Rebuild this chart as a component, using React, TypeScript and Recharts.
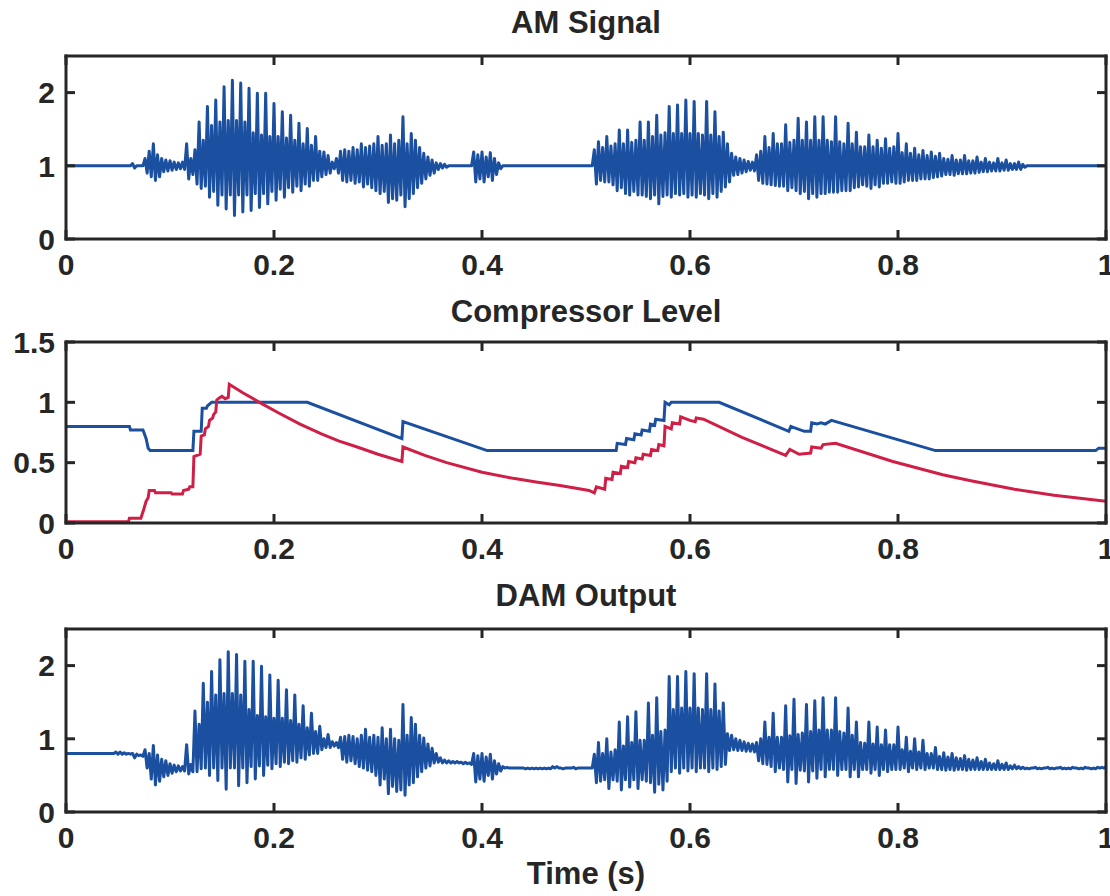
import { LineChart, Line, XAxis, YAxis } from 'recharts'

// sample spacing of the two audio traces (s); each sample holds an upper and a lower swing
const STEP = 0.004

const amHi = [
  1, 1, 1, 1, 1, 1, 1, 1, 1, 1,
  1, 1, 1, 1, 1, 1, 1.03, 1, 1, 1.1,
  1.2, 1.3, 1.15, 1.1, 1.08, 1.07, 1.05, 1.04, 1.05, 1.3,
  1.1, 1.22, 1.6, 1.35, 1.81, 1.55, 1.9, 1.6, 2.08, 1.62,
  2.17, 1.62, 2.13, 1.6, 2.06, 1.45, 1.99, 1.42, 1.99, 1.4,
  1.85, 1.4, 1.74, 1.38, 1.69, 1.35, 1.58, 1.3, 1.51, 1.28,
  1.4, 1.2, 1.19, 1.14, 1.05, 1.1, 1.2, 1.22, 1.2, 1.25,
  1.22, 1.3, 1.25, 1.27, 1.3, 1.4, 1.28, 1.3, 1.42, 1.3,
  1.35, 1.67, 1.3, 1.44, 1.35, 1.25, 1.17, 1.12, 1.08, 1.04,
  1.03, 1.02, 1, 1, 1, 1, 1, 1, 1.19, 1.15,
  1.19, 1.12, 1.18, 1.1, 1.04, 1, 1, 1, 1, 1,
  1, 1, 1, 1, 1, 1, 1, 1, 1, 1,
  1, 1, 1, 1, 1, 1, 1, 1.22, 1.33, 1.25,
  1.4, 1.27, 1.3, 1.49, 1.3, 1.49, 1.32, 1.35, 1.6, 1.35,
  1.6, 1.4, 1.69, 1.42, 1.45, 1.81, 1.44, 1.83, 1.44, 1.9,
  1.44, 1.88, 1.44, 1.42, 1.88, 1.42, 1.74, 1.4, 1.46, 1.3,
  1.17, 1.12, 1.1, 1.08, 1.06, 1.05, 1.15, 1.2, 1.4, 1.25,
  1.44, 1.3, 1.3, 1.56, 1.32, 1.35, 1.65, 1.35, 1.6, 1.35,
  1.67, 1.35, 1.67, 1.35, 1.33, 1.67, 1.33, 1.3, 1.58, 1.3,
  1.46, 1.26, 1.26, 1.42, 1.26, 1.35, 1.24, 1.37, 1.24, 1.26,
  1.44, 1.18, 1.3, 1.17, 1.24, 1.15, 1.21, 1.14, 1.19, 1.13,
  1.17, 1.1, 1.09, 1.14, 1.08, 1.08, 1.14, 1.07, 1.07, 1.12,
  1.05, 1.1, 1.05, 1.04, 1.1, 1.04, 1.08, 1.03, 1.03, 1.05,
  1.02, 1, 1, 1, 1, 1, 1, 1, 1, 1,
  1, 1, 1, 1, 1, 1, 1, 1, 1, 1,
  1,
]

const amLo = [
  1, 1, 1, 1, 1, 1, 1, 1, 1, 1,
  1, 1, 1, 1, 1, 1, 0.97, 1, 1, 0.9,
  0.85, 0.8, 0.85, 0.92, 0.93, 0.94, 0.95, 0.96, 0.95, 0.82,
  0.88, 0.75, 0.69, 0.72, 0.57, 0.65, 0.46, 0.6, 0.41, 0.6,
  0.32, 0.6, 0.37, 0.6, 0.39, 0.62, 0.43, 0.62, 0.48, 0.65,
  0.53, 0.68, 0.57, 0.7, 0.64, 0.72, 0.66, 0.75, 0.72, 0.8,
  0.8, 0.85, 0.88, 0.9, 0.96, 0.9, 0.8, 0.78, 0.8, 0.76,
  0.78, 0.71, 0.75, 0.7, 0.66, 0.62, 0.65, 0.5, 0.55, 0.53,
  0.6, 0.44, 0.55, 0.62, 0.7, 0.76, 0.82, 0.87, 0.9, 0.95,
  0.97, 0.98, 1, 1, 1, 1, 1, 1, 0.78, 0.82,
  0.78, 0.85, 0.8, 0.88, 0.96, 1, 1, 1, 1, 1,
  1, 1, 1, 1, 1, 1, 1, 1, 1, 1,
  1, 1, 1, 1, 1, 1, 1, 0.75, 0.8, 0.78,
  0.78, 0.74, 0.66, 0.7, 0.62, 0.6, 0.65, 0.6, 0.6, 0.58,
  0.55, 0.6, 0.48, 0.58, 0.6, 0.57, 0.62, 0.6, 0.62, 0.57,
  0.6, 0.57, 0.62, 0.6, 0.55, 0.62, 0.57, 0.65, 0.71, 0.78,
  0.87, 0.88, 0.9, 0.92, 0.94, 0.93, 0.8, 0.76, 0.75, 0.74,
  0.73, 0.72, 0.72, 0.66, 0.7, 0.66, 0.62, 0.65, 0.55, 0.62,
  0.57, 0.62, 0.62, 0.64, 0.64, 0.64, 0.66, 0.66, 0.66, 0.7,
  0.71, 0.74, 0.72, 0.69, 0.74, 0.71, 0.76, 0.76, 0.78, 0.76,
  0.76, 0.78, 0.8, 0.8, 0.8, 0.82, 0.82, 0.82, 0.84, 0.85,
  0.86, 0.88, 0.88, 0.87, 0.89, 0.89, 0.89, 0.9, 0.9, 0.91,
  0.92, 0.92, 0.93, 0.93, 0.93, 0.94, 0.94, 0.95, 0.95, 0.95,
  0.98, 1, 1, 1, 1, 1, 1, 1, 1, 1,
  1, 1, 1, 1, 1, 1, 1, 1, 1, 1,
  1,
]

const damHi = [
  0.8, 0.8, 0.8, 0.8, 0.8, 0.8, 0.8, 0.8, 0.8, 0.8,
  0.8, 0.8, 0.82, 0.82, 0.81, 0.8, 0.8, 0.79, 0.78, 0.85,
  0.8, 0.91, 0.78, 0.72, 0.7, 0.66, 0.64, 0.63, 0.62, 0.92,
  0.65, 1.38, 1.2, 1.76, 1.5, 1.92, 1.6, 2.08, 1.62, 2.19,
  1.62, 2.15, 1.6, 2.06, 1.4, 2.06, 1.32, 1.99, 1.3, 1.87,
  1.28, 1.8, 1.28, 1.67, 1.25, 1.6, 1.2, 1.45, 1.15, 1.35,
  1.1, 1.17, 1.0, 1.06, 0.96, 0.95, 1.02, 1.03, 1.05, 1.03,
  1.0, 1.05, 1.13, 1.02, 1.05, 1.02, 1.15, 1.0, 1.13, 1.0,
  0.98, 1.47, 1.05, 1.29, 1.2, 1.05, 1.01, 0.93, 0.87, 0.8,
  0.74, 0.71, 0.7, 0.69, 0.69, 0.68, 0.68, 0.67, 0.8, 0.77,
  0.8, 0.75, 0.79, 0.7, 0.66, 0.62, 0.61, 0.6, 0.6, 0.6,
  0.6, 0.6, 0.6, 0.6, 0.6, 0.6, 0.6, 0.62, 0.62, 0.6,
  0.6, 0.6, 0.61, 0.6, 0.6, 0.6, 0.6, 0.79, 0.95, 0.8,
  1.0, 0.82, 0.85, 1.23, 0.9, 1.3, 0.95, 1.37, 0.98, 0.98,
  1.49, 1.05, 1.56, 1.1, 1.12, 1.85, 1.4, 1.85, 1.42, 1.92,
  1.42, 1.89, 1.42, 1.4, 1.89, 1.4, 1.75, 1.38, 1.49, 1.07,
  1.05, 1.0, 0.98, 0.96, 0.94, 0.93, 0.95, 1.0, 1.23, 1.02,
  1.35, 1.02, 1.02, 1.45, 1.04, 1.54, 1.06, 1.08, 1.47, 1.1,
  1.52, 1.12, 1.56, 1.12, 1.12, 1.56, 1.1, 1.08, 1.42, 1.05,
  1.23, 0.95, 0.94, 1.23, 0.93, 1.16, 0.92, 1.12, 0.92, 0.92,
  1.16, 0.85, 1.02, 0.83, 1.0, 0.82, 0.98, 0.8, 0.8, 0.88,
  0.76, 0.81, 0.75, 0.8, 0.74, 0.73, 0.77, 0.72, 0.71, 0.74,
  0.69, 0.72, 0.67, 0.66, 0.7, 0.65, 0.67, 0.63, 0.64, 0.62,
  0.61, 0.6, 0.6, 0.61, 0.6, 0.6, 0.61, 0.6, 0.6, 0.61,
  0.6, 0.6, 0.61, 0.6, 0.6, 0.61, 0.6, 0.6, 0.61, 0.61,
  0.62,
]

const damLo = [
  0.8, 0.8, 0.8, 0.8, 0.8, 0.8, 0.8, 0.8, 0.8, 0.8,
  0.8, 0.8, 0.79, 0.79, 0.79, 0.79, 0.74, 0.77, 0.76, 0.6,
  0.45, 0.37, 0.42, 0.48, 0.5, 0.53, 0.55, 0.56, 0.56, 0.52,
  0.55, 0.55, 0.59, 0.6, 0.5, 0.6, 0.43, 0.6, 0.31, 0.6,
  0.6, 0.36, 0.6, 0.4, 0.62, 0.45, 0.63, 0.5, 0.64, 0.59,
  0.66, 0.62, 0.68, 0.66, 0.7, 0.68, 0.74, 0.72, 0.78, 0.8,
  0.8, 0.85, 0.88, 0.88, 0.9, 0.88, 0.72, 0.68, 0.7, 0.66,
  0.62, 0.6, 0.57, 0.55, 0.5, 0.37, 0.45, 0.25, 0.35, 0.28,
  0.3, 0.23, 0.37, 0.4, 0.48, 0.55, 0.6, 0.63, 0.67, 0.68,
  0.67, 0.67, 0.67, 0.67, 0.67, 0.66, 0.66, 0.65, 0.41, 0.45,
  0.42, 0.5, 0.45, 0.52, 0.56, 0.6, 0.6, 0.6, 0.6, 0.6,
  0.59, 0.59, 0.59, 0.59, 0.59, 0.59, 0.59, 0.6, 0.6, 0.59,
  0.6, 0.6, 0.59, 0.6, 0.6, 0.6, 0.6, 0.4, 0.42, 0.44,
  0.32, 0.44, 0.42, 0.3, 0.44, 0.34, 0.44, 0.32, 0.44, 0.42,
  0.4, 0.27, 0.38, 0.3, 0.42, 0.55, 0.6, 0.53, 0.6, 0.56,
  0.6, 0.55, 0.6, 0.6, 0.55, 0.6, 0.58, 0.62, 0.65, 0.84,
  0.85, 0.84, 0.84, 0.83, 0.83, 0.82, 0.7, 0.66, 0.65, 0.62,
  0.55, 0.6, 0.58, 0.41, 0.58, 0.39, 0.57, 0.56, 0.41, 0.56,
  0.46, 0.58, 0.48, 0.58, 0.58, 0.5, 0.58, 0.58, 0.48, 0.58,
  0.48, 0.58, 0.58, 0.53, 0.58, 0.5, 0.58, 0.55, 0.58, 0.58,
  0.58, 0.6, 0.55, 0.6, 0.58, 0.6, 0.58, 0.6, 0.6, 0.58,
  0.58, 0.57, 0.58, 0.57, 0.58, 0.58, 0.57, 0.58, 0.58, 0.58,
  0.58, 0.58, 0.58, 0.58, 0.58, 0.58, 0.58, 0.59, 0.59, 0.59,
  0.59, 0.59, 0.6, 0.59, 0.59, 0.6, 0.59, 0.59, 0.6, 0.59,
  0.59, 0.59, 0.6, 0.59, 0.59, 0.6, 0.59, 0.59, 0.6, 0.6,
  0.62,
]

// compressor level, blue trace
const blueT = [
  0, 0.061, 0.062, 0.074, 0.077, 0.079, 0.081,
  0.122, 0.123, 0.13, 0.131, 0.135, 0.136, 0.14,
  0.232, 0.323, 0.324, 0.405,
  0.529, 0.53, 0.538, 0.539, 0.546, 0.547, 0.553, 0.554, 0.561, 0.562, 0.566, 0.567, 0.575, 0.576,
  0.58, 0.582, 0.628,
  0.695, 0.697, 0.7, 0.71, 0.716, 0.717, 0.722, 0.726, 0.73, 0.736,
  0.836, 0.99, 0.993, 1,
]
const blueV = [
  0.8, 0.8, 0.77, 0.77, 0.7, 0.62, 0.6,
  0.6, 0.76, 0.76, 0.95, 0.95, 0.97, 1,
  1, 0.7, 0.84, 0.6,
  0.6, 0.66, 0.65, 0.7, 0.69, 0.74, 0.73, 0.77, 0.76, 0.82, 0.81, 0.86, 0.85, 1,
  0.98, 1, 1,
  0.76, 0.8, 0.79, 0.76, 0.76, 0.83, 0.82, 0.83, 0.82, 0.85,
  0.6, 0.6, 0.62, 0.62,
]

// compressor level, red trace
const redT = [
  0, 0.06, 0.061, 0.072, 0.075, 0.077, 0.079, 0.08, 0.085, 0.086,
  0.101, 0.102, 0.112, 0.113, 0.118, 0.119, 0.122, 0.123, 0.126, 0.129,
  0.13, 0.133, 0.134, 0.137, 0.138, 0.141, 0.142, 0.144, 0.145, 0.148,
  0.15, 0.153, 0.156, 0.157, 0.17, 0.186, 0.205, 0.225, 0.245, 0.262,
  0.28, 0.3, 0.323, 0.324, 0.345, 0.366, 0.4, 0.43, 0.452, 0.475,
  0.503, 0.508, 0.51, 0.518, 0.519, 0.525, 0.526, 0.533, 0.534, 0.54,
  0.541, 0.547, 0.548, 0.554, 0.555, 0.562, 0.563, 0.569, 0.57, 0.575,
  0.576, 0.582, 0.583, 0.59, 0.591, 0.6, 0.605, 0.606, 0.613, 0.65,
  0.692, 0.696, 0.705, 0.716, 0.717, 0.726, 0.728, 0.74, 0.795, 0.843,
  0.87, 0.912, 0.95, 1,
]
const redV = [
  0.01, 0.01, 0.04, 0.04, 0.12, 0.18, 0.21, 0.27, 0.27, 0.25,
  0.25, 0.24, 0.24, 0.27, 0.28, 0.3, 0.3, 0.55, 0.56, 0.57,
  0.72, 0.73, 0.78, 0.8, 0.85, 0.87, 0.9, 0.92, 1.02, 1.04,
  1.05, 1.03, 1.04, 1.15, 1.08, 1, 0.91, 0.82, 0.74, 0.68,
  0.63, 0.57, 0.51, 0.63, 0.56, 0.5, 0.42, 0.37, 0.34, 0.31,
  0.27, 0.25, 0.3, 0.28, 0.37, 0.36, 0.42, 0.41, 0.47, 0.46,
  0.51, 0.5, 0.54, 0.53, 0.57, 0.56, 0.61, 0.6, 0.65, 0.64,
  0.8, 0.78, 0.83, 0.82, 0.88, 0.85, 0.84, 0.87, 0.86, 0.71,
  0.56, 0.61, 0.57, 0.58, 0.63, 0.62, 0.65, 0.66, 0.51, 0.4,
  0.35, 0.28, 0.23, 0.18,
]

const timeTicks = [0, 0.2, 0.4, 0.6, 0.8, 1]
const signalTicks = [0, 1, 2]
const levelTicks = [0, 0.5, 1, 1.5]

const BLUE = '#1b4fa0'
const RED = '#cf1f46'
const INK = '#262626'
const FONT = '"Liberation Sans", Arial, Helvetica, sans-serif'
const TICK_LEN = 9
const X_GAP = 15 // axis to top of time labels
const Y_GAP = 11 // axis to right edge of value labels

function zigzag(hi: number[], lo: number[]) {
  const pts: { t: number; v: number }[] = []
  hi.forEach((h, i) => {
    pts.push({ t: i * STEP, v: h })
    pts.push({ t: i * STEP + STEP / 2, v: lo[i] })
  })
  return pts
}

function pairs(ts: number[], vs: number[]) {
  return ts.map((t, i) => ({ t, v: vs[i] }))
}

const amData = zigzag(amHi, amLo)
const damData = zigzag(damHi, damLo)
const blueData = pairs(blueT, blueV)
const redData = pairs(redT, redV)

const fmtTime = (v: number) => (v === 0 || v === 1 ? String(v) : v.toFixed(1))
const fmtLevel = (v: number) => (Number.isInteger(v) ? String(v) : v.toFixed(1))

const labelProps = { fill: INK, fontSize: 30, fontWeight: 700, fontFamily: FONT }

// tick renderers: inward mark + label, matlab style
function BottomTick(p: any) {
  return (
    <g>
      <line x1={p.x} x2={p.x} y1={p.y - X_GAP} y2={p.y - X_GAP - TICK_LEN} stroke={INK} strokeWidth={3} />
      <text x={p.x} y={p.y} dy="0.71em" textAnchor="middle" {...labelProps}>
        {fmtTime(p.payload.value)}
      </text>
    </g>
  )
}

function LeftTick(p: any) {
  return (
    <g>
      <line x1={p.x + Y_GAP} x2={p.x + Y_GAP + TICK_LEN} y1={p.y} y2={p.y} stroke={INK} strokeWidth={3} />
      <text x={p.x} y={p.y} dy="0.36em" textAnchor="end" {...labelProps}>
        {fmtLevel(p.payload.value)}
      </text>
    </g>
  )
}

function TopTick(p: any) {
  return <line x1={p.x} x2={p.x} y1={p.y} y2={p.y + TICK_LEN} stroke={INK} strokeWidth={3} />
}

function RightTick(p: any) {
  return <line x1={p.x} x2={p.x - TICK_LEN} y1={p.y} y2={p.y} stroke={INK} strokeWidth={3} />
}

// box with inward ticks on all four sides, labels on bottom and left only.
// top/right axes get 1px of size: recharts skips drawing an axis of zero size
function frame(yMax: number, yTicks: number[]) {
  const edge = { stroke: INK, strokeWidth: 3, strokeLinecap: 'square' as const }
  const xCommon = {
    type: 'number' as const,
    dataKey: 't',
    domain: [0, 1],
    ticks: timeTicks,
    interval: 0,
    allowDataOverflow: true,
    tickLine: false,
    tickSize: 0,
    axisLine: edge,
  }
  const yCommon = {
    type: 'number' as const,
    domain: [0, yMax],
    ticks: yTicks,
    interval: 0,
    allowDataOverflow: true,
    tickLine: false,
    tickSize: 0,
    axisLine: edge,
  }
  return [
    <XAxis key="xb" {...xCommon} tick={BottomTick} tickMargin={X_GAP} height={30} />,
    <XAxis key="xt" xAxisId="top" orientation="top" {...xCommon} tick={TopTick} tickMargin={0} height={1} />,
    <YAxis key="yl" {...yCommon} tick={LeftTick} tickMargin={Y_GAP} width={60} />,
    <YAxis key="yr" yAxisId="right" orientation="right" {...yCommon} tick={RightTick} tickMargin={0} width={1} />,
  ]
}

const titleStyle = {
  position: 'absolute' as const,
  left: 66,
  width: 1040,
  height: 32,
  lineHeight: '32px',
  textAlign: 'center' as const,
  fontFamily: FONT,
  fontWeight: 700,
  fontSize: 31,
  color: INK,
}

export default function App() {
  return (
    <div style={{ position: 'absolute', left: 0, top: 0, width: 1110, height: 896, background: '#fff', overflow: 'hidden' }}>
      <div style={{ ...titleStyle, top: 7 }}>AM Signal</div>
      <div style={{ position: 'absolute', left: 0, top: 0 }}>
        <LineChart width={1110} height={290} margin={{ top: 55, right: 3, bottom: 21, left: 6 }}>
          {frame(2.5, signalTicks)}
          <Line
            data={amData}
            dataKey="v"
            type="linear"
            dot={false}
            activeDot={false}
            stroke={BLUE}
            strokeWidth={3}
            strokeLinejoin="round"
            isAnimationActive={false}
          />
        </LineChart>
      </div>

      <div style={{ ...titleStyle, top: 296 }}>Compressor Level</div>
      <div style={{ position: 'absolute', left: 0, top: 290 }}>
        <LineChart width={1110} height={290} margin={{ top: 51, right: 3, bottom: 27, left: 6 }}>
          {frame(1.5, levelTicks)}
          <Line
            data={blueData}
            dataKey="v"
            type="linear"
            dot={false}
            activeDot={false}
            stroke={BLUE}
            strokeWidth={3}
            isAnimationActive={false}
          />
          <Line
            data={redData}
            dataKey="v"
            type="linear"
            dot={false}
            activeDot={false}
            stroke={RED}
            strokeWidth={3}
            isAnimationActive={false}
          />
        </LineChart>
      </div>

      <div style={{ ...titleStyle, top: 580 }}>DAM Output</div>
      <div style={{ position: 'absolute', left: 0, top: 580 }}>
        <LineChart width={1110} height={316} margin={{ top: 48, right: 3, bottom: 54, left: 6 }}>
          {frame(2.5, signalTicks)}
          <Line
            data={damData}
            dataKey="v"
            type="linear"
            dot={false}
            activeDot={false}
            stroke={BLUE}
            strokeWidth={3}
            strokeLinejoin="round"
            isAnimationActive={false}
          />
        </LineChart>
      </div>
      <div style={{ ...titleStyle, top: 858 }}>Time (s)</div>
    </div>
  )
}
